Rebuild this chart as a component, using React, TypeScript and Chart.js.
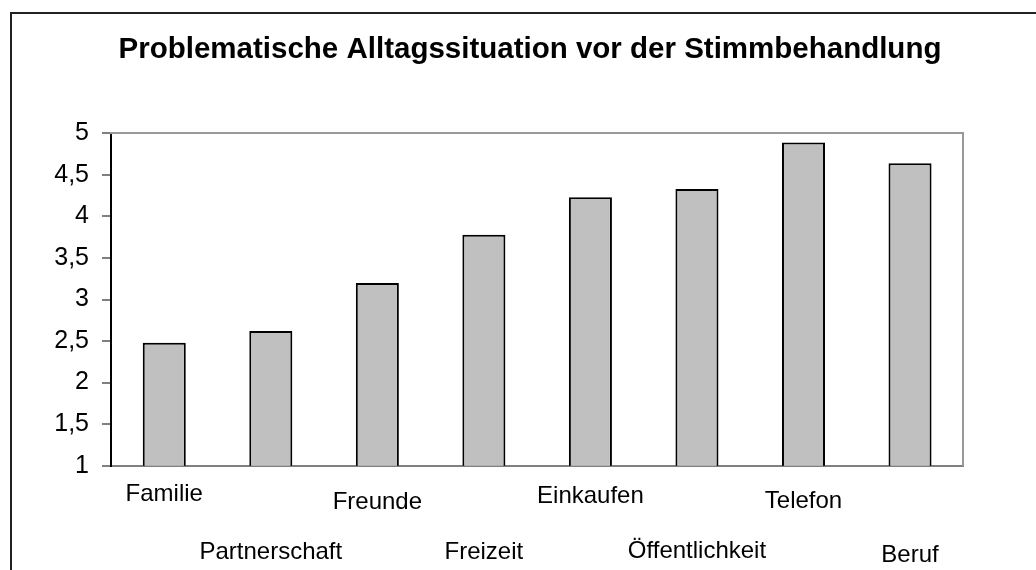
import { useEffect, useRef } from 'react';
import { Chart, registerables } from 'chart.js';

Chart.register(...registerables);

const chartTitle = 'Problematische Alltagssituation vor der Stimmbehandlung';
const categories = ['Familie', 'Partnerschaft', 'Freunde', 'Freizeit', 'Einkaufen', 'Öffentlichkeit', 'Telefon', 'Beruf'];
const values = [2.48, 2.62, 3.2, 3.78, 4.23, 4.33, 4.89, 4.64];
const yTickLabels = ['1', '1,5', '2', '2,5', '3', '3,5', '4', '4,5', '5'];

const FONT = '"Liberation Sans", Arial, sans-serif';

export default function App() {
  const ref = useRef<HTMLCanvasElement>(null);

  useEffect(() => {
    // layout constants (canvas coordinates)
    const AXIS_BOTTOM = 451.7;
    const labelCenters = [480, 538.5, 488, 538.5, 482.5, 537.5, 487.5, 541];

    const chart = new Chart(ref.current!, {
      type: 'bar',
      data: {
        labels: categories,
        datasets: [
          {
            data: values,
            backgroundColor: '#C0C0C0',
            borderColor: '#000000',
            borderWidth: 2,
            borderSkipped: false,
            barPercentage: 0.404,
            categoryPercentage: 1,
          },
        ],
      },
      options: {
        animation: false,
        responsive: false,
        maintainAspectRatio: false,
        layout: { padding: 0 },
        plugins: {
          legend: { display: false },
          tooltip: { enabled: false },
          title: {
            display: true,
            text: chartTitle,
            color: '#000000',
            font: { family: FONT, size: 29.5, weight: 'bold', lineHeight: 1.2 },
            padding: { top: 18, bottom: 65.9 },
          },
        },
        scales: {
          x: {
            position: 'bottom',
            grid: { display: true, drawOnChartArea: false, drawTicks: false },
            border: { display: true, color: '#808080', width: 2 },
            ticks: {
              padding: 0,
              autoSkip: false,
              maxRotation: 0,
              minRotation: 0,
              color: '#000000',
              font: (ctx: any) => ({
                family: FONT,
                size: 24,
                lineHeight: `${2 * ((labelCenters[ctx.index] ?? 480) - AXIS_BOTTOM)}px`,
              }),
            },
            afterFit: (s: any) => {
              s.height = 164.3;
            },
          },
          y: {
            position: 'left',
            min: 1,
            max: 5,
            grid: { display: true, drawOnChartArea: false, drawTicks: true, tickLength: 9, color: '#808080', lineWidth: 2 },
            border: { display: true, color: '#000000', width: 2 },
            ticks: {
              stepSize: 0.5,
              padding: 13,
              color: '#000000',
              font: { family: FONT, size: 25 },
              callback: (_v: any, i: number) => yTickLabels[i],
            },
            afterFit: (s: any) => {
              s.width = 99;
            },
          },
          x2: {
            position: 'top',
            type: 'category',
            grid: { display: true, drawOnChartArea: false, drawTicks: false },
            border: { display: true, color: '#999999', width: 2 },
            ticks: { display: false },
            afterFit: (s: any) => {
              s.height = 0;
            },
          },
          y2: {
            position: 'right',
            grid: { display: true, drawOnChartArea: false, drawTicks: false },
            border: { display: true, color: '#999999', width: 2 },
            ticks: { display: false },
            afterFit: (s: any) => {
              s.width = 84.7;
            },
          },
        },
      } as any,
    });

    return () => chart.destroy();
  }, []);

  return (
    <div style={{ position: 'absolute', left: 0, top: 0, width: 1036, height: 570, overflow: 'hidden', background: '#fff' }}>
      <div
        style={{
          position: 'absolute',
          left: 10,
          top: 12,
          width: 1040,
          height: 620,
          border: '2px solid #222',
          boxSizing: 'border-box',
          background: '#fff',
        }}
      >
        <canvas ref={ref} width={1036} height={616} style={{ display: 'block', width: 1036, height: 616 }} />
      </div>
    </div>
  );
}
